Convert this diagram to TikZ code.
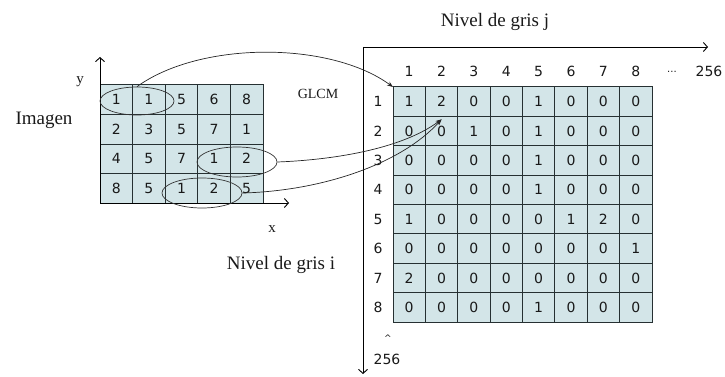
\documentclass[tikz,border=0pt]{standalone}
\usepackage{fontspec}
\setmainfont{Liberation Serif}
\newfontfamily\digitfont{DejaVu Sans}
\usetikzlibrary{arrows.meta,shapes.geometric}
\definecolor{cellfill}{HTML}{D3E5E8}
\definecolor{gridline}{HTML}{263032}
\begin{document}
\begin{tikzpicture}[x=1pt,y=-1pt,
  lcell/.style={draw=gridline, line width=1pt, fill=cellfill, minimum width=32.6pt, minimum height=29.5pt, inner sep=0pt, outer sep=0pt, font=\digitfont\fontsize{14}{14}\selectfont, text=black!90},
  rcell/.style={lcell, minimum width=32.375pt, minimum height=29.375pt},
  numlab/.style={inner sep=0pt, font=\digitfont\fontsize{14}{14}\selectfont, text=black!90},
  serlab/.style={inner sep=0pt, font=\fontsize{19}{19}\selectfont, text=black!90},
  ring/.style={draw=black!80, ellipse, line width=0.7pt, inner sep=0pt},
  conn/.style={draw=black!85, line width=0.7pt, -{Stealth[length=6pt,width=4.5pt]}},
  axis/.style={draw=black, line width=0.9pt, -{Straight Barb[length=4pt,width=9pt]}}
]
\useasboundingbox (0,0) rectangle (725,377);

% left image grid
\foreach \row [count=\r] in {{1,1,5,6,8},{2,3,5,7,1},{4,5,7,1,2},{8,5,1,2,5}} {
  \foreach \v [count=\c] in \row {
    \node[lcell] (L-\r-\c) at ({100+32.6*(\c-0.5)},{85+29.5*(\r-0.5)}) {\v};
  }
}

% left axes
\coordinate (lo) at (100,203);
\coordinate (ly) at (100,57);
\coordinate (lx) at (289,203);
\draw[axis] (lo) -- (ly);
\draw[axis] (lo) -- (lx);
\node[serlab, font=\fontsize{15}{15}\selectfont] (ylab) at (80,82) {y};
\node[serlab, font=\fontsize{15}{15}\selectfont] (xlab) at (272,229) {x};
\node[serlab] (imagen) at (44,120) {Imagen};
\node[serlab] (nivi) at (281,265) {Nivel de gris i};
\node[serlab, font=\fontsize{14}{14}\selectfont] (glcm) at (318,94) {GLCM};

% right GLCM grid
\foreach \row [count=\r] in {{1,2,0,0,1,0,0,0},{0,0,1,0,1,0,0,0},{0,0,0,0,1,0,0,0},{0,0,0,0,1,0,0,0},{1,0,0,0,0,1,2,0},{0,0,0,0,0,0,0,1},{2,0,0,0,0,0,0,0},{0,0,0,0,1,0,0,0}} {
  \foreach \v [count=\c] in \row {
    \node[rcell] (R-\r-\c) at ({393+32.375*(\c-0.5)},{87+29.375*(\r-0.5)}) {\v};
  }
}
\foreach \c in {1,...,8} {
  \node[numlab] (H-\c) at ({393+32.375*(\c-0.5)},71) {\c};
  \node[numlab] (V-\c) at (378,{87+29.375*(\c-0.5)}) {\c};
}
\node[numlab, font=\digitfont\fontsize{10}{10}\selectfont] (hdots) at (672,72) {...};
\node[numlab] (h256) at (709,71) {256};
\node[numlab] (v256) at (387,359) {256};
\node[numlab, font=\digitfont\fontsize{9}{9}\selectfont] (vdots) at (388,338) {\textasciicircum};

% right axes
\coordinate (ro) at (363,47);
\coordinate (rx) at (708,47);
\coordinate (ry) at (363,374);
\draw[axis] (ro) -- (rx);
\draw[axis] (ro) -- (ry);
\node[serlab] (nivj) at (495,22) {Nivel de gris j};

% ellipses marking pairs
\node[ring, minimum width=74pt, minimum height=28pt] (e1) at (137,101) {};
\node[ring, minimum width=80pt, minimum height=30pt] (e2) at (237,162) {};
\node[ring, minimum width=80pt, minimum height=30pt] (e3) at (202,193) {};

% connectors
\coordinate (t2) at ([yshift=-3pt]R-2-2.north);
\draw[conn] (e1.north) .. controls (200,41) and (330,41) .. (R-1-1.north west);
\draw[conn] (e2.east) .. controls (330,160) and (400,150) .. (t2);
\draw[conn] (e3.east) .. controls (320,191) and (400,165) .. (t2);
\end{tikzpicture}
\end{document}
